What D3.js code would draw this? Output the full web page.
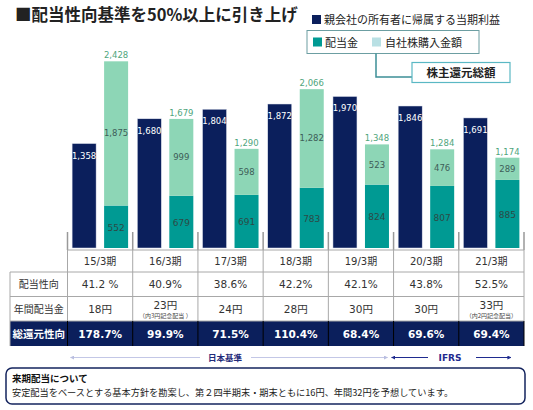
<!DOCTYPE html>
<html>
<head>
<meta charset="utf-8">
<script src="https://cdn.jsdelivr.net/npm/d3@7"></script>
<style>
  body { margin: 0; background: #fff; }
  text { font-family: "DejaVu Sans", "Noto Sans CJK JP", sans-serif; }
  .jp { font-family: "Noto Sans CJK JP", sans-serif; }
</style>
</head>
<body>
<script>
const width = 533;
const height = 410;

// Données
const periods = ["15/3期", "16/3期", "17/3期", "18/3期", "19/3期", "20/3期", "21/3期"];
const netIncome = [1358, 1680, 1804, 1872, 1970, 1846, 1691];
const dividends = [552, 679, 691, 783, 824, 807, 885];
const buybacks = [1875, 999, 598, 1282, 523, 476, 289];
const totals = [2428, 1679, 1290, 2066, 1348, 1284, 1174];
const payoutRatio = ["41.2 %", "40.9%", "38.6%", "42.2%", "42.1%", "43.8%", "52.5%"];
const annualDividend = ["18円", "23円", "24円", "28円", "30円", "30円", "33円"];
const dividendNote = ["", "（内3円記念配当 ）", "", "", "", "", "（内2円記念配当）"];
const totalReturn = ["178.7%", "99.9%", "71.5%", "110.4%", "68.4%", "69.6%", "69.4%"];
const rowLabels = ["配当性向", "年間配当金", "総還元性向"];

const navy = "#0b1f5c";
const teal = "#009a93";
const mint = "#8dd6b6";

const svg = d3.select("body")
    .append("svg")
    .attr("width", width)
    .attr("height", height);

// Echelles
const x = d3.scaleBand()
    .domain(periods)
    .range([67.5, 524]);

const sub = d3.scaleBand()
    .domain(["income", "return"])
    .range([0, x.bandwidth()])
    .paddingInner(0.25)
    .paddingOuter(0.144);

const y = d3.scaleLinear()
    .domain([0, 2500])
    .range([248, 55.7]);

const fmt = d3.format(",");

// Titre
svg.append("text")
    .attr("class", "jp")
    .attr("x", 15)
    .attr("y", 21)
    .attr("font-size", "16.5px")
    .attr("font-weight", "bold")
    .attr("fill", "#222")
    .text("■配当性向基準を50%以上に引き上げ");

// Légende
svg.append("rect")
    .attr("x", 312).attr("y", 15)
    .attr("width", 9).attr("height", 9)
    .attr("fill", navy);
svg.append("text")
    .attr("class", "jp")
    .attr("x", 324).attr("y", 24)
    .attr("font-size", "11px")
    .attr("fill", "#222")
    .text("親会社の所有者に帰属する当期利益");

svg.append("rect")
    .attr("x", 307).attr("y", 30.5)
    .attr("width", 172).attr("height", 23)
    .attr("fill", "#fff")
    .attr("stroke", "#6c9ea2")
    .attr("stroke-width", 1);
svg.append("rect")
    .attr("x", 313).attr("y", 37.5)
    .attr("width", 9).attr("height", 9)
    .attr("fill", teal);
svg.append("text")
    .attr("class", "jp")
    .attr("x", 325).attr("y", 46.5)
    .attr("font-size", "11px")
    .attr("fill", "#222")
    .text("配当金");
svg.append("rect")
    .attr("x", 372).attr("y", 37.5)
    .attr("width", 9).attr("height", 9)
    .attr("fill", "#b9e0e4");
svg.append("text")
    .attr("class", "jp")
    .attr("x", 385).attr("y", 46.5)
    .attr("font-size", "11px")
    .attr("fill", "#222")
    .text("自社株購入金額");

svg.append("path")
    .attr("d", "M376,53.5 V77 H412")
    .attr("fill", "none")
    .attr("stroke", "#3c8f97")
    .attr("stroke-width", 1.5);
svg.append("rect")
    .attr("x", 412).attr("y", 62.5)
    .attr("width", 98).attr("height", 20)
    .attr("fill", "#fff")
    .attr("stroke", "#5ab8c4")
    .attr("stroke-width", 1.2);
svg.append("text")
    .attr("class", "jp")
    .attr("x", 461).attr("y", 76.5)
    .attr("text-anchor", "middle")
    .attr("font-size", "11.5px")
    .attr("font-weight", "bold")
    .attr("fill", "#222")
    .text("株主還元総額");

// Barres
const cols = svg.selectAll("g.col")
    .data(periods)
    .enter()
    .append("g")
    .attr("class", "col")
    .attr("transform", d => `translate(${x(d)},0)`);

cols.append("rect")
    .attr("x", sub("income"))
    .attr("y", (d, i) => y(netIncome[i]))
    .attr("width", sub.bandwidth())
    .attr("height", (d, i) => y(0) - y(netIncome[i]))
    .attr("fill", navy)
    .attr("stroke", "#dfe3ee")
    .attr("stroke-width", 0.5);

cols.append("rect")
    .attr("x", sub("return"))
    .attr("y", (d, i) => y(dividends[i]))
    .attr("width", sub.bandwidth())
    .attr("height", (d, i) => y(0) - y(dividends[i]))
    .attr("fill", teal);

cols.append("rect")
    .attr("x", sub("return"))
    .attr("y", (d, i) => y(dividends[i] + buybacks[i]))
    .attr("width", sub.bandwidth())
    .attr("height", (d, i) => y(dividends[i]) - y(dividends[i] + buybacks[i]))
    .attr("fill", mint);

const cx1 = sub("income") + sub.bandwidth() / 2;
const cx2 = sub("return") + sub.bandwidth() / 2;

cols.append("text")
    .attr("x", cx1)
    .attr("y", (d, i) => y(netIncome[i]) + 15)
    .attr("text-anchor", "middle")
    .attr("font-size", "8.5px")
    .attr("fill", "#fff")
    .text((d, i) => fmt(netIncome[i]));

cols.append("text")
    .attr("x", cx2)
    .attr("y", (d, i) => (y(0) + y(dividends[i])) / 2 + 4)
    .attr("text-anchor", "middle")
    .attr("font-size", "9px")
    .attr("fill", "#2c4a46")
    .text((d, i) => fmt(dividends[i]));

cols.append("text")
    .attr("x", cx2)
    .attr("y", (d, i) => (y(dividends[i]) + y(dividends[i] + buybacks[i])) / 2 + 3)
    .attr("text-anchor", "middle")
    .attr("font-size", "8.5px")
    .attr("fill", "#3d5d58")
    .text((d, i) => fmt(buybacks[i]));

cols.append("text")
    .attr("x", cx2)
    .attr("y", (d, i) => y(totals[i]) - 3)
    .attr("text-anchor", "middle")
    .attr("font-size", "8.5px")
    .attr("fill", "#4fa57c")
    .text((d, i) => fmt(totals[i]));

// Tableau
const rowY = [250, 272, 296.5, 321, 346];
const gridColor = "#a8a8a8";
const left = 10;
const right = x.range()[1];
const bounds = periods.map(p => x(p)).concat([right]);

// dernière ligne remplie
svg.append("rect")
    .attr("x", left).attr("y", rowY[3])
    .attr("width", right - left).attr("height", rowY[4] - rowY[3])
    .attr("fill", navy);

// petites graduations au-dessus
svg.selectAll("line.tick")
    .data(bounds)
    .enter()
    .append("line")
    .attr("x1", d => d).attr("x2", d => d)
    .attr("y1", 232).attr("y2", rowY[0])
    .attr("stroke", "#999")
    .attr("stroke-width", 1.5);

// lignes horizontales
svg.selectAll("line.h")
    .data(rowY.slice(0, 4))
    .enter()
    .append("line")
    .attr("x1", (d, i) => i === 0 ? x.range()[0] : left)
    .attr("x2", right)
    .attr("y1", d => d).attr("y2", d => d)
    .attr("stroke", gridColor)
    .attr("stroke-width", 1);

// lignes verticales
svg.selectAll("line.v")
    .data(bounds)
    .enter()
    .append("line")
    .attr("x1", d => d).attr("x2", d => d)
    .attr("y1", rowY[0]).attr("y2", rowY[3])
    .attr("stroke", gridColor)
    .attr("stroke-width", 1);
svg.selectAll("line.vd")
    .data(bounds)
    .enter()
    .append("line")
    .attr("x1", d => d).attr("x2", d => d)
    .attr("y1", rowY[3]).attr("y2", rowY[4])
    .attr("stroke", "#000")
    .attr("stroke-width", 1);
svg.append("line")
    .attr("x1", left).attr("x2", left)
    .attr("y1", rowY[1]).attr("y2", rowY[4])
    .attr("stroke", gridColor);

// libellés de lignes
svg.selectAll("text.rowlab")
    .data(rowLabels)
    .enter()
    .append("text")
    .attr("class", "jp")
    .attr("x", (left + x.range()[0]) / 2)
    .attr("y", (d, i) => (rowY[i + 1] + rowY[i + 2]) / 2 + 4)
    .attr("text-anchor", "middle")
    .attr("font-size", (d, i) => i === 2 ? "10.5px" : "10px")
    .attr("font-weight", (d, i) => i === 2 ? "bold" : "normal")
    .attr("fill", (d, i) => i === 2 ? "#fff" : "#333")
    .text(d => d);

const mid = p => x(p) + x.bandwidth() / 2;

svg.selectAll("text.period")
    .data(periods)
    .enter()
    .append("text")
    .attr("x", mid)
    .attr("y", (rowY[0] + rowY[1]) / 2 + 4)
    .attr("text-anchor", "middle")
    .attr("font-size", "10px")
    .attr("fill", "#333")
    .text(d => d);

svg.selectAll("text.payout")
    .data(periods)
    .enter()
    .append("text")
    .attr("x", mid)
    .attr("y", (rowY[1] + rowY[2]) / 2 + 4)
    .attr("text-anchor", "middle")
    .attr("font-size", "10.5px")
    .attr("fill", "#333")
    .text((d, i) => payoutRatio[i]);

svg.selectAll("text.annual")
    .data(periods)
    .enter()
    .append("text")
    .attr("x", mid)
    .attr("y", (d, i) => dividendNote[i] ? rowY[2] + 12 : (rowY[2] + rowY[3]) / 2 + 4)
    .attr("text-anchor", "middle")
    .attr("font-size", "10.5px")
    .attr("fill", "#333")
    .text((d, i) => annualDividend[i]);

svg.selectAll("text.note")
    .data(periods)
    .enter()
    .append("text")
    .attr("class", "jp")
    .attr("x", mid)
    .attr("y", rowY[3] - 3)
    .attr("text-anchor", "middle")
    .attr("font-size", "6px")
    .attr("fill", "#444")
    .text((d, i) => dividendNote[i]);

svg.selectAll("text.tr")
    .data(periods)
    .enter()
    .append("text")
    .attr("x", mid)
    .attr("y", (rowY[3] + rowY[4]) / 2 + 4)
    .attr("text-anchor", "middle")
    .attr("font-size", "10.5px")
    .attr("font-weight", "bold")
    .attr("fill", "#fff")
    .text((d, i) => totalReturn[i]);

// Flèches de normes comptables
const defs = svg.append("defs");
function arrowHead(id, color) {
    defs.append("marker")
        .attr("id", id)
        .attr("viewBox", "0 0 10 10")
        .attr("refX", 9).attr("refY", 5)
        .attr("markerWidth", 4).attr("markerHeight", 4)
        .attr("orient", "auto-start-reverse")
        .append("path")
        .attr("d", "M0,0 L10,5 L0,10 z")
        .attr("fill", color);
}
arrowHead("ah-jp", "#b9bee0");
arrowHead("ah-ifrs", "#1f2b8f");

const arrowY = 357.5;
const jpEnd = x("20/3期") - 6;
const ifrsStart = x("20/3期") - 2;

svg.append("line")
    .attr("x1", x("15/3期") + 3).attr("x2", 200)
    .attr("y1", arrowY).attr("y2", arrowY)
    .attr("stroke", "#c3c7e6").attr("stroke-width", 1)
    .attr("marker-start", "url(#ah-jp)");
svg.append("line")
    .attr("x1", 251).attr("x2", jpEnd)
    .attr("y1", arrowY).attr("y2", arrowY)
    .attr("stroke", "#c3c7e6").attr("stroke-width", 1)
    .attr("marker-end", "url(#ah-jp)");
svg.append("text")
    .attr("class", "jp")
    .attr("x", 225).attr("y", arrowY + 3)
    .attr("text-anchor", "middle")
    .attr("font-size", "8.5px")
    .attr("font-weight", "bold")
    .attr("fill", "#1f2b7a")
    .text("日本基準");

svg.append("line")
    .attr("x1", ifrsStart).attr("x2", 428)
    .attr("y1", arrowY).attr("y2", arrowY)
    .attr("stroke", "#1f2b8f").attr("stroke-width", 1)
    .attr("marker-start", "url(#ah-ifrs)");
svg.append("line")
    .attr("x1", 476).attr("x2", 511)
    .attr("y1", arrowY).attr("y2", arrowY)
    .attr("stroke", "#1f2b8f").attr("stroke-width", 1)
    .attr("marker-end", "url(#ah-ifrs)");
svg.append("text")
    .attr("x", 450).attr("y", arrowY + 3)
    .attr("text-anchor", "middle")
    .attr("font-family", "Liberation Serif, serif")
    .attr("font-size", "9px")
    .attr("font-weight", "bold")
    .attr("fill", "#1f2b8f")
    .text("IFRS");

// Encadré du bas
svg.append("rect")
    .attr("x", 6).attr("y", 368)
    .attr("width", 519).attr("height", 36)
    .attr("rx", 6).attr("ry", 6)
    .attr("fill", "#fff")
    .attr("stroke", "#14245e")
    .attr("stroke-width", 1.5);
svg.append("text")
    .attr("class", "jp")
    .attr("x", 12).attr("y", 381.5)
    .attr("font-size", "9.5px")
    .attr("font-weight", "bold")
    .attr("fill", "#111")
    .text("来期配当について");
svg.append("text")
    .attr("class", "jp")
    .attr("x", 12).attr("y", 396)
    .attr("font-size", "9.2px")
    .attr("fill", "#222")
    .text("安定配当をベースとする基本方針を勘案し、第２四半期末・期末ともに16円、年間32円を予想しています。");
</script>
</body>
</html>
